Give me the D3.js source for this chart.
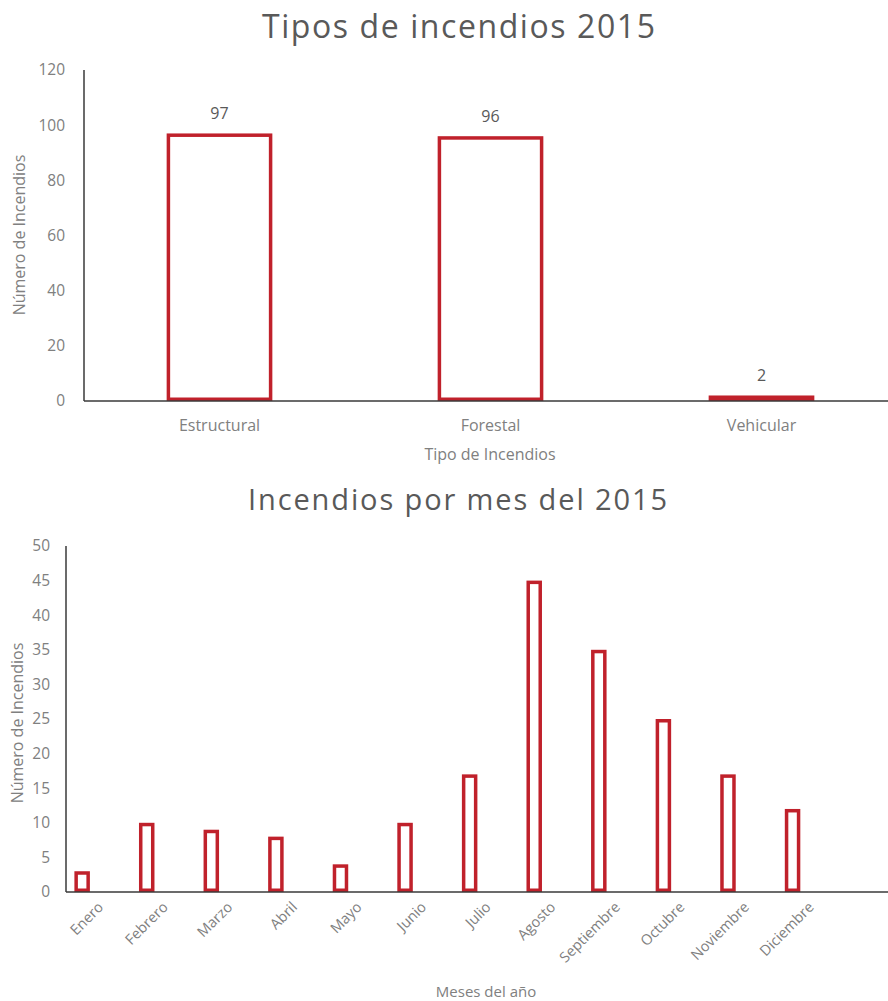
<!DOCTYPE html>
<html>
<head>
<meta charset="utf-8">
<script src="https://cdn.jsdelivr.net/npm/d3@7"></script>
<style>
  html, body { margin: 0; padding: 0; background: #fff; }
  svg { display: block; font-family: "Open Sans", "Segoe UI", sans-serif; }
</style>
</head>
<body>
<svg id="chart" width="888" height="1001"></svg>
<script>
// Fire types, 2015
const tipos = ["Estructural", "Forestal", "Vehicular"];
const tiposValores = [97, 96, 2];
const tiposTicks = [0, 20, 40, 60, 80, 100, 120];

// Fires per month, 2015
const meses = ["Enero", "Febrero", "Marzo", "Abril", "Mayo", "Junio",
               "Julio", "Agosto", "Septiembre", "Octubre", "Noviembre", "Diciembre"];
const mesesValores = [3, 10, 9, 8, 4, 10, 17, 45, 35, 25, 17, 12];
const mesesTicks = [0, 5, 10, 15, 20, 25, 30, 35, 40, 45, 50];

const RED = "#c0212b";
const GREY = "#808080";
const TITLE = "#595959";
const AXIS = "#3a3a3a";

const svg = d3.select("#chart");

function styleAxis(g, size) {
  g.attr("font-family", null).attr("font-size", null);
  g.select(".domain").remove();
  g.selectAll(".tick line").remove();
  g.selectAll(".tick text").attr("fill", GREY).style("font-size", size + "px");
}

// ---------- Chart 1: Tipos de incendios 2015 ----------
{
  const left = 84, right = 897, top = 70, bottom = 401;
  const x = d3.scaleBand().domain(tipos).range([left, right])
    .paddingInner(0.61).paddingOuter(0.305);
  const y = d3.scaleLinear().domain([0, 120]).range([bottom, top]);

  svg.append("text").attr("x", 458.5).attr("y", 38).attr("text-anchor", "middle")
    .attr("fill", TITLE).style("font-size", "32px")
    .attr("textLength", 393).attr("lengthAdjust", "spacing")
    .text("Tipos de incendios 2015");

  const data = tipos.map((t, i) => ({ t, v: tiposValores[i] }));

  svg.append("g").selectAll("rect").data(data).join("rect")
    .attr("x", d => x(d.t) + 1.75)
    .attr("y", d => y(d.v) + 1.75)
    .attr("width", x.bandwidth() - 3.5)
    .attr("height", d => Math.max(0, y(0) - y(d.v) - 3.5))
    .attr("fill", "#fff").attr("stroke", RED).attr("stroke-width", 3.5);

  svg.append("g").selectAll("text").data(data).join("text")
    .attr("x", d => x(d.t) + x.bandwidth() / 2)
    .attr("y", d => y(d.v) - 14)
    .attr("text-anchor", "middle").attr("fill", TITLE).style("font-size", "16px")
    .text(d => d.v);

  svg.append("g").attr("transform", `translate(${left},0)`)
    .call(d3.axisLeft(y).tickValues(tiposTicks).tickSize(0).tickPadding(19))
    .call(styleAxis, 15.5);

  svg.append("g").attr("transform", `translate(0,${bottom})`)
    .call(d3.axisBottom(x).tickSize(0).tickPadding(19))
    .call(styleAxis, 16);

  svg.append("line").attr("x1", left).attr("x2", left).attr("y1", top).attr("y2", bottom)
    .attr("stroke", AXIS).attr("stroke-width", 1.5);
  svg.append("line").attr("x1", left).attr("x2", right).attr("y1", bottom).attr("y2", bottom)
    .attr("stroke", AXIS).attr("stroke-width", 1.5);

  svg.append("text").attr("transform", `translate(25,235) rotate(-90)`)
    .attr("text-anchor", "middle").attr("fill", GREY).style("font-size", "16px")
    .text("Número de Incendios");
  svg.append("text").attr("x", 490).attr("y", 460).attr("text-anchor", "middle")
    .attr("fill", GREY).style("font-size", "16px").text("Tipo de Incendios");
}

// ---------- Chart 2: Incendios por mes del 2015 ----------
{
  const left = 66, top = 546, bottom = 892;
  const x = d3.scaleBand().domain(meses).range([left, 841]);
  // two slots per month, the count sits in the first one
  const xs = d3.scaleBand().domain(["2015", "otro"]).range([0, x.bandwidth()]);
  const y = d3.scaleLinear().domain([0, 50]).range([bottom, top]);
  const barW = xs.bandwidth() * 0.48;

  svg.append("text").attr("x", 457.5).attr("y", 510).attr("text-anchor", "middle")
    .attr("fill", TITLE).style("font-size", "29px")
    .attr("textLength", 419).attr("lengthAdjust", "spacing")
    .text("Incendios por mes del 2015");

  const data = meses.map((m, i) => ({ m, v: mesesValores[i] }));

  svg.append("g").selectAll("rect").data(data).join("rect")
    .attr("x", d => x(d.m) + xs("2015") + xs.bandwidth() / 2 - barW / 2 + 1.75)
    .attr("y", d => y(d.v) + 1.75)
    .attr("width", barW - 3.5)
    .attr("height", d => Math.max(0, y(0) - y(d.v) - 3.5))
    .attr("fill", "#fff").attr("stroke", RED).attr("stroke-width", 3.5);

  svg.append("g").attr("transform", `translate(${left},0)`)
    .call(d3.axisLeft(y).tickValues(mesesTicks).tickSize(0).tickPadding(16))
    .call(styleAxis, 15.5);

  const xa = svg.append("g").attr("transform", `translate(0,${bottom})`)
    .call(d3.axisBottom(x).tickSize(0).tickPadding(0))
    .call(styleAxis, 14.5);
  xa.selectAll(".tick text")
    .attr("text-anchor", "end")
    .attr("dy", null)
    .attr("transform", "translate(6,16) rotate(-45)");

  svg.append("line").attr("x1", left).attr("x2", left).attr("y1", top).attr("y2", bottom)
    .attr("stroke", AXIS).attr("stroke-width", 1.5);
  svg.append("line").attr("x1", left).attr("x2", 888).attr("y1", bottom).attr("y2", bottom)
    .attr("stroke", AXIS).attr("stroke-width", 1.5);

  svg.append("text").attr("transform", `translate(23,723) rotate(-90)`)
    .attr("text-anchor", "middle").attr("fill", GREY).style("font-size", "16px")
    .text("Número de Incendios");
  svg.append("text").attr("x", 486).attr("y", 997).attr("text-anchor", "middle")
    .attr("fill", GREY).style("font-size", "15px").text("Meses del año");
}
</script>
</body>
</html>
